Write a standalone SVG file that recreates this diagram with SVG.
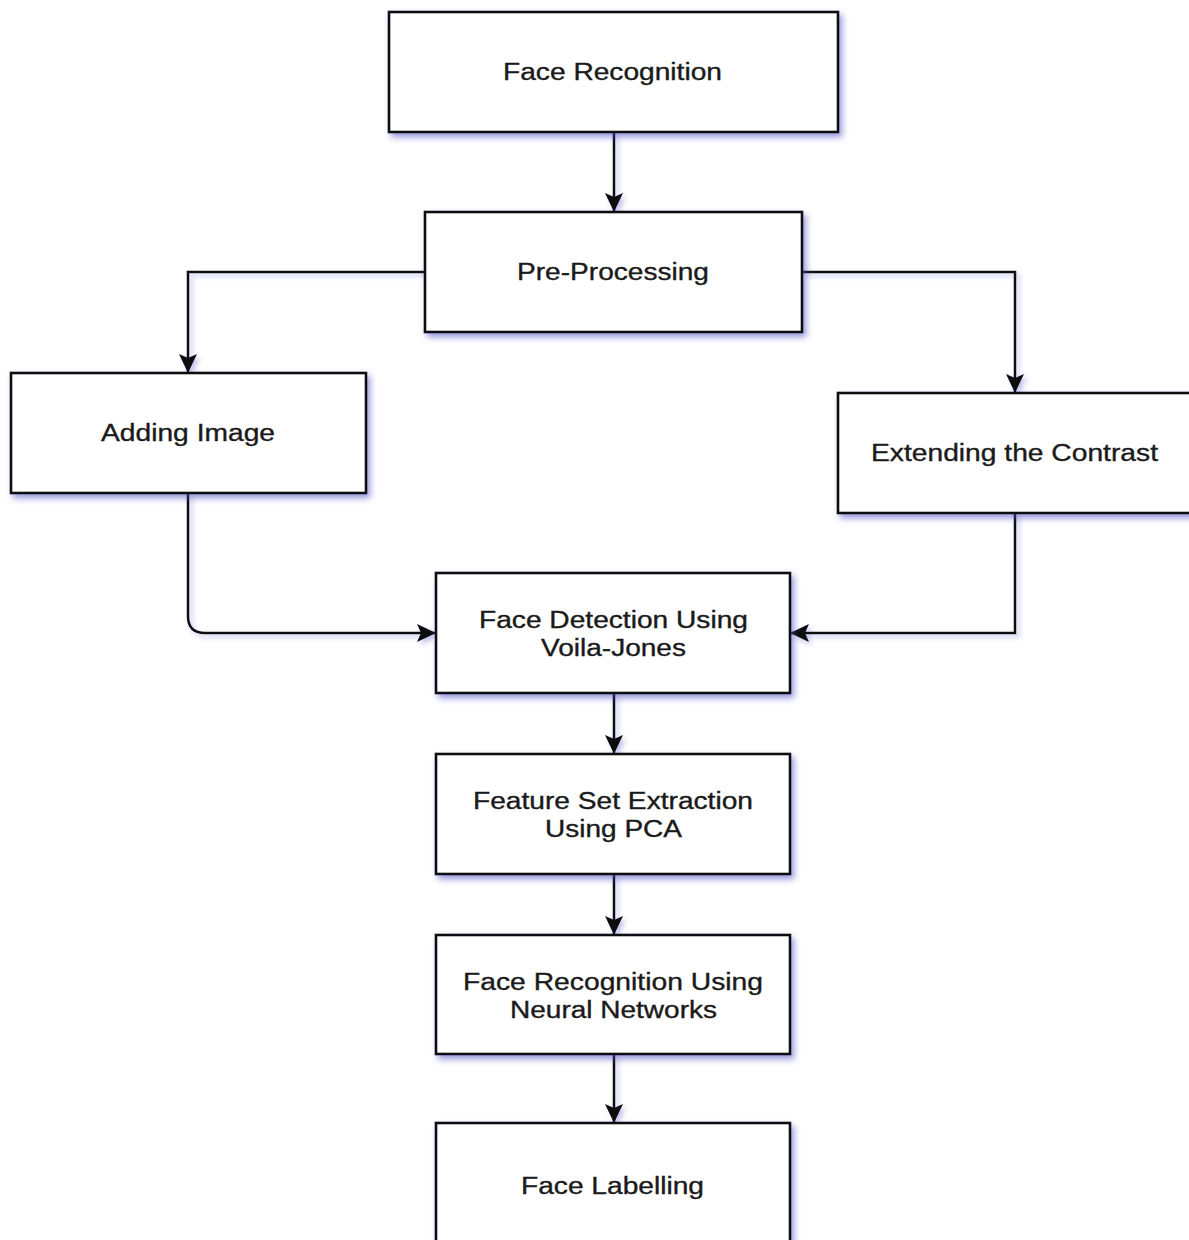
<svg xmlns="http://www.w3.org/2000/svg" width="1189" height="1240" viewBox="0 0 1189 1240">
<defs>
<style>
.box{fill:#ffffff;stroke:#111111;stroke-width:2.6}
.lbl{font-family:"Liberation Sans",Arial,sans-serif;font-size:23px;fill:#1a1a1a;stroke:#1a1a1a;stroke-width:0.35;text-anchor:middle}
.edge{fill:none;stroke:#111111;stroke-width:2.5}
</style>
<filter id="sh" x="-10%" y="-10%" width="130%" height="140%">
<feDropShadow dx="3" dy="4" stdDeviation="3" flood-color="#4a4ac0" flood-opacity="0.55"/>
</filter>
<filter id="shl" x="-10%" y="-10%" width="130%" height="130%">
<feDropShadow dx="3" dy="3" stdDeviation="2.5" flood-color="#4a4ac0" flood-opacity="0.35"/>
</filter>
<marker id="arr" markerUnits="userSpaceOnUse" markerWidth="20" markerHeight="18" refX="18" refY="9" orient="auto">
<path d="M0,0 L19,9 L0,18 L4,9 z" fill="#111111"/>
</marker>
</defs>
<rect width="1189" height="1240" fill="#ffffff"/>
<g id="connectors" filter="url(#shl)">
<path class="edge" d="M614,132 V211" marker-end="url(#arr)"/>
<path class="edge" d="M425,272 H188 V372" marker-end="url(#arr)"/>
<path class="edge" d="M802,272 H1015 V392" marker-end="url(#arr)"/>
<path class="edge" d="M188,493 V616 Q188,633 205,633 H435" marker-end="url(#arr)"/>
<path class="edge" d="M1015,513 V633 H791" marker-end="url(#arr)"/>
<path class="edge" d="M614,693 V753" marker-end="url(#arr)"/>
<path class="edge" d="M614,874 V934" marker-end="url(#arr)"/>
<path class="edge" d="M614,1054 V1122" marker-end="url(#arr)"/>
</g>
<g id="n1"><rect class="box" filter="url(#sh)" x="389" y="12" width="449" height="120"/><text class="lbl" x="612.5" y="80" textLength="219" lengthAdjust="spacingAndGlyphs">Face Recognition</text></g>
<g id="n2"><rect class="box" filter="url(#sh)" x="425" y="212" width="377" height="120"/><text class="lbl" x="613" y="280" textLength="192" lengthAdjust="spacingAndGlyphs">Pre-Processing</text></g>
<g id="n3"><rect class="box" filter="url(#sh)" x="11" y="373" width="355" height="120"/><text class="lbl" x="188" y="441" textLength="174" lengthAdjust="spacingAndGlyphs">Adding Image</text></g>
<g id="n4"><rect class="box" filter="url(#sh)" x="838" y="393" width="360" height="120"/><text class="lbl" x="1014.5" y="461" textLength="287" lengthAdjust="spacingAndGlyphs">Extending the Contrast</text></g>
<g id="n5"><rect class="box" filter="url(#sh)" x="436" y="573" width="354" height="120"/><text class="lbl" x="613.5" y="628" textLength="269" lengthAdjust="spacingAndGlyphs">Face Detection Using</text><text class="lbl" x="613.5" y="656" textLength="145" lengthAdjust="spacingAndGlyphs">Voila-Jones</text></g>
<g id="n6"><rect class="box" filter="url(#sh)" x="436" y="754" width="354" height="120"/><text class="lbl" x="613" y="809" textLength="280" lengthAdjust="spacingAndGlyphs">Feature Set Extraction</text><text class="lbl" x="613.5" y="837" textLength="137" lengthAdjust="spacingAndGlyphs">Using PCA</text></g>
<g id="n7"><rect class="box" filter="url(#sh)" x="436" y="935" width="354" height="119"/><text class="lbl" x="613" y="990" textLength="300" lengthAdjust="spacingAndGlyphs">Face Recognition Using</text><text class="lbl" x="613.5" y="1018" textLength="207" lengthAdjust="spacingAndGlyphs">Neural Networks</text></g>
<g id="n8"><rect class="box" filter="url(#sh)" x="436" y="1123" width="354" height="130"/><text class="lbl" x="612.5" y="1194" textLength="183" lengthAdjust="spacingAndGlyphs">Face Labelling</text></g>
</svg>
